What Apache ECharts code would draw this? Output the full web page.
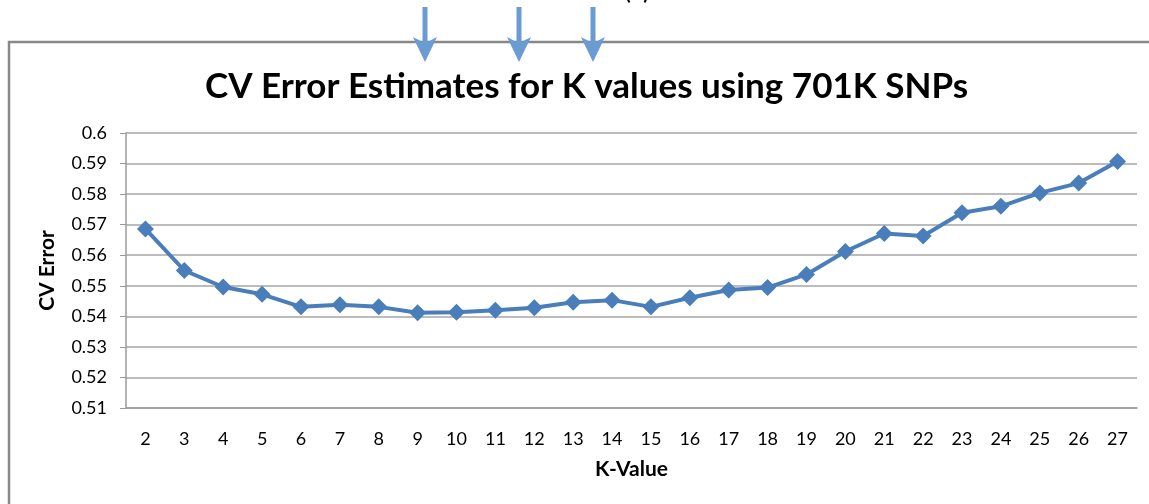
<!DOCTYPE html>
<html>
<head>
<meta charset="utf-8">
<script src="https://cdn.jsdelivr.net/npm/echarts@6/dist/echarts.min.js"></script>
<style>
  html, body { margin: 0; padding: 0; background: #fff; }
  #main { width: 1149px; height: 504px; }
</style>
</head>
<body>
<div id="main"></div>
<script>
  // K values on the x axis
  const kValues = ['2','3','4','5','6','7','8','9','10','11','12','13','14','15','16','17','18','19','20','21','22','23','24','25','26','27'];
  // CV error per K
  const cvError = [0.5686, 0.5550, 0.5496, 0.5472, 0.5431, 0.5438, 0.5431, 0.5412, 0.5413, 0.5420, 0.5428, 0.5446, 0.5453, 0.5431, 0.5461, 0.5486, 0.5494, 0.5537, 0.5612, 0.5671, 0.5663, 0.5739, 0.5760, 0.5804, 0.5836, 0.5907];
  // arrows drawn above the chart frame (x positions in px)
  const arrowXs = [425, 519, 593];

  const font = 'Lato, "Open Sans", sans-serif';
  const arrowColor = '#6a9bd1';

  // solid-headed down arrows
  const arrows = arrowXs.map(x => ({
    type: 'polygon',
    shape: {
      points: [
        [x - 2.5, 7], [x + 2.5, 7], [x + 2.5, 42], [x + 12, 37],
        [x, 62], [x - 12, 37], [x - 2.5, 42]
      ]
    },
    style: { fill: arrowColor },
    z: 10
  }));

  const chart = echarts.init(document.getElementById('main'));
  chart.setOption({
    animation: false,
    backgroundColor: '#fff',
    title: {
      text: 'CV Error Estimates for K values using 701K SNPs',
      left: 200,
      top: 64,
      textStyle: { fontFamily: font, fontSize: 35, fontWeight: 'bold', color: '#000' }
    },
    graphic: [
      {
        type: 'rect', shape: { x: 9, y: 42, width: 1200, height: 520 },
        style: { fill: null, stroke: '#888', lineWidth: 2.5 }, z: 5
      },
      {
        type: 'text', left: 624, top: -22,
        style: { text: '(a)', font: '26px ' + font, fill: '#000' }
      }
    ].concat(arrows),
    grid: { left: 126, right: 12, top: 133, bottom: 96 },
    xAxis: {
      type: 'category',
      data: kValues,
      boundaryGap: true,
      name: 'K-Value',
      nameLocation: 'middle',
      nameGap: 51,
      nameTextStyle: { fontFamily: font, fontSize: 21, fontWeight: 'bold', color: '#000' },
      axisLine: { lineStyle: { color: '#9a9a9a', width: 1.5 } },
      axisTick: { alignWithLabel: false, length: 7, lineStyle: { color: '#9a9a9a' } },
      axisLabel: { fontFamily: font, fontSize: 18, color: '#000', margin: 22 }
    },
    yAxis: {
      type: 'value',
      min: 0.51,
      max: 0.6,
      interval: 0.01,
      name: 'CV Error',
      nameLocation: 'middle',
      nameGap: 68,
      nameRotate: 90,
      nameTextStyle: { fontFamily: font, fontSize: 21, fontWeight: 'bold', color: '#000' },
      axisLine: { show: true, lineStyle: { color: '#9a9a9a', width: 1.5 } },
      axisTick: { show: true, length: 6, lineStyle: { color: '#9a9a9a' } },
      axisLabel: {
        fontFamily: font, fontSize: 18, color: '#000', margin: 19,
        formatter: v => String(+v.toFixed(2))
      },
      splitLine: { lineStyle: { color: '#a6a6a6', width: 1.5 } }
    },
    series: [{
      type: 'line',
      data: cvError,
      symbol: 'diamond',
      symbolSize: 17,
      lineStyle: { color: '#4a7ebb', width: 4 },
      itemStyle: { color: '#4a7ebb' }
    }]
  });
</script>
</body>
</html>
